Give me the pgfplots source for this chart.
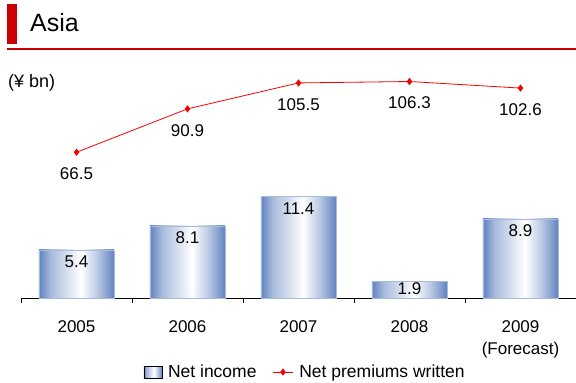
\documentclass[border=0pt]{standalone}
\usepackage{pgfplots}
\pgfplotsset{compat=1.18}
\usepackage{fontspec}
\setmainfont{Liberation Sans}
\definecolor{titlered}{RGB}{204,0,0}
\definecolor{barblue}{RGB}{98,132,192}
\definecolor{linered}{RGB}{245,0,0}
\pgfdeclarehorizontalshading{barshade}{100bp}{color(0bp)=(barblue); color(25bp)=(barblue); color(33bp)=(barblue!55!white); color(53bp)=(white); color(63bp)=(barblue!40!white); color(75bp)=(barblue); color(100bp)=(barblue)}
\pgfplotsset{
  mybar/.style={ybar, bar width=75pt, bar shift=0pt, draw=barblue!55, shade, shading=barshade,
    nodes near coords, point meta=explicit symbolic,
    every node near coord/.append style={anchor=north, inner sep=0pt, yshift=-6pt, text=black, font=\fontsize{17}{20}\selectfont}},
  mylinelegend/.style={legend image code/.code={\draw[##1, mark repeat=2, mark phase=2] plot coordinates {(0pt,0pt) (10pt,0pt) (20pt,0pt)};}},
}
\begin{document}
\begin{tikzpicture}
\path[use as bounding box] (0pt,0pt) rectangle (576pt,383pt);
\fill[titlered] (7pt,339pt) rectangle (17pt,379pt);
\node[anchor=base west, inner sep=0pt, font=\fontsize{25}{30}\selectfont] at (30pt,351pt) {Asia};
\draw[titlered, line width=2.5pt] (7pt,334pt) -- (576pt,334pt);
\node[anchor=base west, inner sep=0pt, font=\fontsize{18}{22}\selectfont] at (8pt,295pt) {(¥ bn)};
\begin{axis}[
  at={(21pt,85pt)}, anchor=south west,
  scale only axis, width=555pt, height=238pt,
  xmin=-0.5, xmax=4.5, ymin=0, ymax=26.74,
  axis x line*=bottom, axis y line=none,
  x axis line style={-, black, line width=0.8pt},
  xtick={0,1,2,3,4},
  xticklabels={2005,2006,2007,2008,{2009\\(Forecast)}},
  major tick length=0pt,
  minor xtick={-0.5,0.5,1.5,2.5,3.5},
  minor tick length=5pt,
  tick align=outside,
  minor tick style={black, line width=0.8pt},
  xticklabel style={font=\fontsize{17}{22}\selectfont, align=center, yshift=-19pt},
  ytick=\empty,
  clip=false,
]
\addplot[mybar] coordinates {(0,5.4)[5.4]};
\addplot[mybar] coordinates {(1,8.1)[8.1]};
\addplot[mybar] coordinates {(2,11.4)[11.4]};
\addplot[mybar, every node near coord/.append style={yshift=5pt}] coordinates {(3,1.9)[1.9]};
\addplot[mybar] coordinates {(4,8.9)[8.9]};
\end{axis}
\begin{axis}[
  at={(21pt,85pt)}, anchor=south west,
  scale only axis, width=555pt, height=238pt,
  xmin=-0.5, xmax=4.5, ymin=-15.5, ymax=118.4,
  hide axis, clip=false,
  legend columns=2,
  legend style={draw=none, fill=none, at={(0.512,-0.311)}, anchor=center,
    font=\fontsize{17.5}{20}\selectfont,
    /tikz/every odd column/.append style={column sep=4pt},
    /tikz/every even column/.append style={column sep=14pt}},
]
\addlegendimage{legend image code/.code={\shade[shading=barshade] (0pt,-6pt) rectangle (18pt,6pt);}}
\addlegendentry{Net income}
\addplot[linered, line width=0.8pt, mark=diamond*, mark size=3pt, mark options={fill=linered},
  mylinelegend,
  nodes near coords, point meta=explicit symbolic,
  every node near coord/.append style={anchor=north, inner sep=0pt, yshift=-15pt, text=black, font=\fontsize{17}{20}\selectfont}]
  coordinates {(0,66.5)[66.5] (1,90.9)[90.9] (2,105.5)[105.5] (3,106.3)[106.3] (4,102.6)[102.6]};
\addlegendentry{Net premiums written}
\end{axis}
\end{tikzpicture}
\end{document}
